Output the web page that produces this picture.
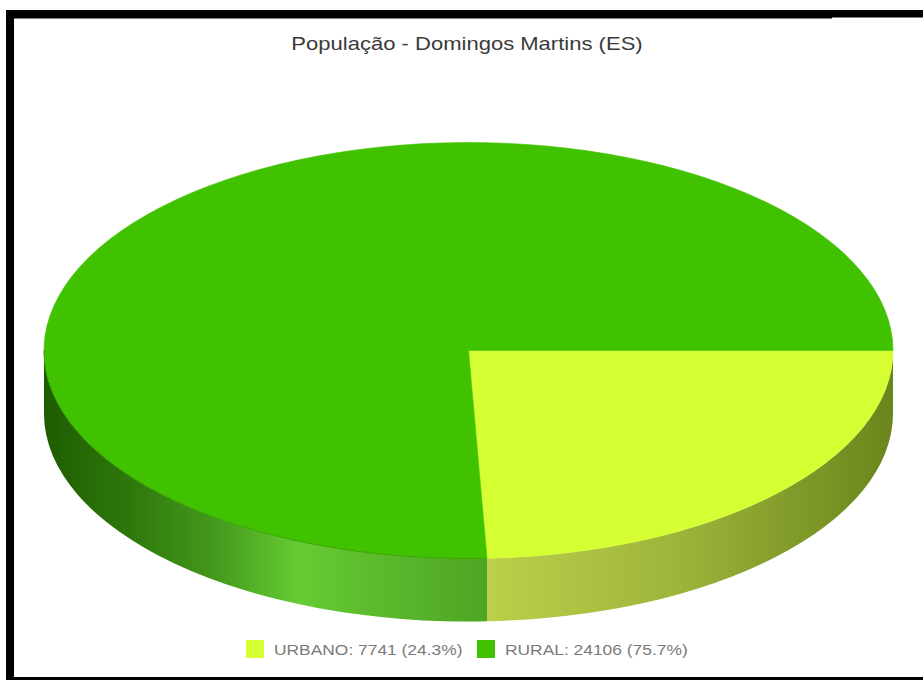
<!DOCTYPE html>
<html>
<head>
<meta charset="utf-8">
<script src="https://cdn.jsdelivr.net/npm/d3@7"></script>
<style>
  body { margin: 0; background: #fff; }
  .title { font-family: 'Liberation Sans', Arial, sans-serif; font-size: 19px; fill: #3a3a3a; }
  .legend-text { font-family: 'Liberation Sans', Arial, sans-serif; font-size: 15px; fill: #7a7a7a; }
</style>
</head>
<body>
<div id="wrapper"></div>
<script>
// data
const categories = ['URBANO', 'RURAL'];
const values = [7741, 24106];
const topColors = ['#d5ff33', '#41c200'];
const titleText = 'População - Domingos Martins (ES)';

function drawChart() {
  const dimensions = {
    width: 923,
    height: 680,
    cx: 468.5,
    cy: 350.5,
    rx: 424.5,
    ry: 208,
    depth: 63,
  };
  // the original text is rendered a bit wider than it is tall
  const textStretch = 1.16;

  const svg = d3
    .select('#wrapper')
    .append('svg')
    .attr('width', dimensions.width)
    .attr('height', dimensions.height);

  const defs = svg.append('defs');
  const x0 = dimensions.cx - dimensions.rx;
  const x1 = dimensions.cx + dimensions.rx;

  // side shading, runs left to right across the whole pie
  const sideStops = [
    [
      [0, '#d0e060'],
      [0.5, '#bfd24c'],
      [0.75, '#9cb43a'],
      [1, '#6a851c'],
    ],
    [
      [0, '#1e5c00'],
      [0.1, '#2d780c'],
      [0.2, '#44981c'],
      [0.3, '#66cc33'],
      [0.38, '#5dbc2e'],
      [0.52, '#4ea524'],
      [1, '#4ea524'],
    ],
  ];
  sideStops.forEach((stops, i) => {
    const g = defs
      .append('linearGradient')
      .attr('id', `side-${i}`)
      .attr('gradientUnits', 'userSpaceOnUse')
      .attr('x1', x0)
      .attr('x2', x1)
      .attr('y1', 0)
      .attr('y2', 0);
    stops.forEach(([o, c]) => {
      g.append('stop').attr('offset', o).attr('stop-color', c);
    });
  });

  // frame
  const frame = svg.append('g').attr('fill', '#000');
  frame.append('rect').attr('x', 6).attr('y', 10).attr('width', 8).attr('height', 670);
  frame.append('rect').attr('x', 6).attr('y', 10).attr('width', 826).attr('height', 8.5);
  frame.append('rect').attr('x', 832).attr('y', 10).attr('width', 91).attr('height', 7.5);
  frame.append('rect').attr('x', 6).attr('y', 677).attr('width', 917).attr('height', 3);

  svg
    .append('g')
    .attr('transform', `translate(467, 50) scale(${textStretch}, 1)`)
    .append('text')
    .attr('class', 'title')
    .attr('text-anchor', 'middle')
    .text(titleText);

  const pie = d3
    .pie()
    .sort(null)
    .startAngle(Math.PI / 2)
    .endAngle(Math.PI / 2 + 2 * Math.PI);
  const slices = pie(values);

  const pt = (a, dy = 0) => [
    dimensions.cx + dimensions.rx * Math.sin(a),
    dimensions.cy - dimensions.ry * Math.cos(a) + dy,
  ];

  const sidePath = (a0, a1) => {
    const s = Math.max(a0, Math.PI / 2);
    const e = Math.min(a1, (3 * Math.PI) / 2);
    if (e <= s) return null;
    const [sx, sy] = pt(s);
    const [ex, ey] = pt(e);
    const d = dimensions.depth;
    return `M${sx},${sy}A${dimensions.rx},${dimensions.ry} 0 0 1 ${ex},${ey}` +
      `L${ex},${ey + d}A${dimensions.rx},${dimensions.ry} 0 0 0 ${sx},${sy + d}Z`;
  };

  const topPath = (a0, a1) => {
    const [sx, sy] = pt(a0);
    const [ex, ey] = pt(a1);
    const large = a1 - a0 > Math.PI ? 1 : 0;
    return `M${dimensions.cx},${dimensions.cy}L${sx},${sy}` +
      `A${dimensions.rx},${dimensions.ry} 0 ${large} 1 ${ex},${ey}Z`;
  };

  const sides = svg.append('g');
  slices.forEach((s, i) => {
    const d = sidePath(s.startAngle, s.endAngle);
    if (d) sides.append('path').attr('d', d).attr('fill', `url(#side-${i})`);
  });

  const tops = svg.append('g');
  tops
    .selectAll('path')
    .data(slices)
    .join('path')
    .attr('d', (s) => topPath(s.startAngle, s.endAngle))
    .attr('fill', (s, i) => topColors[i])
    .attr('stroke', (s, i) => topColors[i])
    .attr('stroke-width', 0.6);

  // slight darker rim on the visible front edge
  const [rsx, rsy] = pt(slices[1].startAngle);
  const [rex, rey] = pt((3 * Math.PI) / 2);
  svg
    .append('path')
    .attr('d', `M${rsx},${rsy}A${dimensions.rx},${dimensions.ry} 0 0 1 ${rex},${rey}`)
    .attr('fill', 'none')
    .attr('stroke', '#3aa600')
    .attr('stroke-width', 1);

  // legend
  const legend = svg.append('g').attr('transform', 'translate(246, 640)');
  const totalValue = d3.sum(values);
  const legendX = [0, 231];
  categories.forEach((c, i) => {
    const item = legend.append('g').attr('transform', `translate(${legendX[i]}, 0)`);
    item.append('rect').attr('width', 18).attr('height', 18).attr('fill', topColors[i]);
    item
      .append('g')
      .attr('transform', `translate(28, 14.5) scale(${textStretch}, 1)`)
      .append('text')
      .attr('class', 'legend-text')
      .text(`${c}: ${values[i]} (${d3.format('.1f')((values[i] / totalValue) * 100)}%)`);
  });
}
drawChart();
</script>
</body>
</html>
